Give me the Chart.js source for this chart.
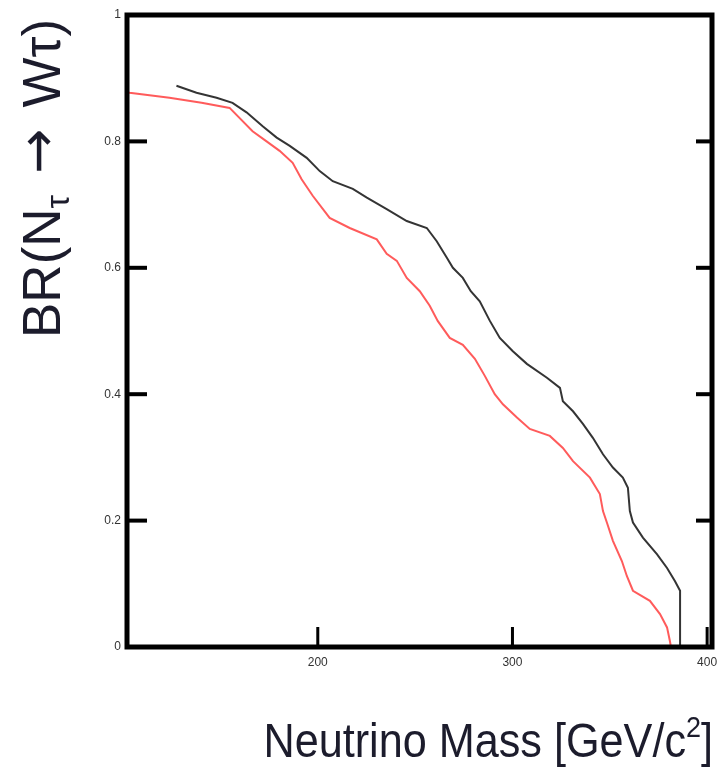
<!DOCTYPE html>
<html><head><meta charset="utf-8">
<script src="https://cdn.jsdelivr.net/npm/chart.js@4"></script>
<style>html,body{margin:0;padding:0;background:#fff}canvas{display:block}</style>
</head><body>
<canvas id="c" width="726" height="769"></canvas>
<script>
const massRed = [102, 103.3, 123.8, 140.3, 154.7, 166.5, 173.7, 180.4, 187.1, 191.7, 197.4, 206.1, 216.4, 230.3, 235.4, 240.6, 245.7, 252.4, 257.5, 261.6, 267.8, 274.5, 280.7, 285.8, 290.9, 295.1, 302.3, 308.9, 319.2, 325.9, 331.1, 339.8, 344.9, 346.5, 348.5, 351.6, 356.2, 358.8, 361.9, 370.6, 375.8, 379.4, 380.9, 381.4];
const brRed = [0.878, 0.877, 0.869, 0.861, 0.853, 0.816, 0.800, 0.785, 0.766, 0.740, 0.714, 0.679, 0.663, 0.645, 0.622, 0.611, 0.584, 0.563, 0.540, 0.516, 0.489, 0.478, 0.456, 0.429, 0.400, 0.384, 0.363, 0.345, 0.334, 0.315, 0.294, 0.268, 0.242, 0.215, 0.197, 0.168, 0.136, 0.112, 0.089, 0.073, 0.052, 0.031, 0.009, 0];
const massBlack = [127.4, 137.7, 148.0, 156.2, 163.4, 171.7, 178.9, 185.6, 194.3, 201.0, 207.7, 218.0, 225.2, 235.4, 245.7, 256.0, 261.1, 266.3, 269.4, 274.5, 278.6, 283.2, 288.4, 293.5, 300.2, 307.4, 317.7, 324.4, 325.9, 331.1, 336.2, 341.3, 346.5, 351.6, 356.7, 359.3, 360.3, 361.9, 367.0, 374.2, 379.4, 383.5, 386.1, 386.1];
const brBlack = [0.888, 0.877, 0.869, 0.861, 0.846, 0.824, 0.806, 0.793, 0.774, 0.753, 0.737, 0.725, 0.711, 0.693, 0.674, 0.663, 0.642, 0.616, 0.600, 0.584, 0.563, 0.547, 0.516, 0.489, 0.468, 0.448, 0.426, 0.410, 0.389, 0.373, 0.353, 0.331, 0.305, 0.284, 0.268, 0.252, 0.215, 0.197, 0.173, 0.147, 0.125, 0.104, 0.089, 0];
const xTickValues = [200, 300, 400];
const yTickValues = [0, 0.2, 0.4, 0.6, 0.8, 1];
const yTickLabels = ['0', '0.2', '0.4', '0.6', '0.8', '1'];
const xTitleMain = 'Neutrino Mass [GeV/c';
const xTitleSup = '2';
const xTitleEnd = ']';
const yTitleA = 'BR(N';
const yTitleSub = 'τ';
const yTitleArrow = ' → ';
const yTitleB = 'Wτ)';

const FONT = '"Liberation Sans", Arial, Helvetica, sans-serif';

const framePlugin = {
  id: 'frame',
  afterDatasetsDraw(chart) {
    const {ctx, chartArea: a, scales} = chart;
    ctx.save();
    ctx.strokeStyle = '#000';
    ctx.lineWidth = 5;
    ctx.strokeRect(a.left, a.top, a.right - a.left, a.bottom - a.top);
    ctx.fillStyle = '#000';
    scales.y.ticks.forEach(t => {
      if (t.value <= 0 || t.value >= 1) return;
      const py = scales.y.getPixelForValue(t.value);
      ctx.fillRect(a.left, py - 2, 20, 4);
      ctx.fillRect(a.right - 16, py - 2, 16, 4);
    });
    scales.x.ticks.forEach(t => {
      const px = scales.x.getPixelForValue(t.value);
      ctx.fillRect(px - 1.5, a.bottom - 20, 3, 20);
    });
    ctx.restore();
  }
};

const titlePlugin = {
  id: 'titles',
  afterDraw(chart) {
    const ctx = chart.ctx;
    ctx.save();
    ctx.fillStyle = '#1c1c2c';
    ctx.textAlign = 'left';
    ctx.textBaseline = 'alphabetic';
    // Y title (rotated)
    ctx.save();
    ctx.translate(60, 338);
    ctx.rotate(-Math.PI / 2);
    let x = 0;
    ctx.font = '53px ' + FONT;
    ctx.fillText(yTitleA, x, 0); x += ctx.measureText(yTitleA).width;
    ctx.font = '34px ' + FONT;
    ctx.fillText(yTitleSub, x, 9); x += ctx.measureText(yTitleSub).width + 4;
    ctx.font = '54px "DejaVu Sans", sans-serif';
    ctx.fillText(yTitleArrow, x, -4); x += ctx.measureText(yTitleArrow).width + 4;
    ctx.font = '53px ' + FONT;
    ctx.fillText(yTitleB, x, 0);
    ctx.restore();
    // X title
    ctx.save();
    const sx = 0.9;
    ctx.font = '48px ' + FONT;
    const w1 = ctx.measureText(xTitleMain).width;
    const w3 = ctx.measureText(xTitleEnd).width;
    ctx.font = '30px ' + FONT;
    const w2 = ctx.measureText(xTitleSup).width;
    const total = (w1 + w2 + w3) * sx;
    ctx.translate(713 - total, 757);
    ctx.scale(sx, 1);
    ctx.font = '48px ' + FONT;
    ctx.fillText(xTitleMain, 0, 0);
    ctx.font = '30px ' + FONT;
    ctx.fillText(xTitleSup, w1, -20);
    ctx.font = '48px ' + FONT;
    ctx.fillText(xTitleEnd, w1 + w2, 0);
    ctx.restore();
    ctx.restore();
  }
};

new Chart(document.getElementById('c'), {
  type: 'line',
  data: {
    datasets: [
      {
        data: massBlack.map((m, i) => ({x: m, y: brBlack[i]})),
        borderColor: 'rgba(30,30,30,0.9)',
        borderWidth: 2,
        pointRadius: 0,
        tension: 0,
        fill: false
      },
      {
        data: massRed.map((m, i) => ({x: m, y: brRed[i]})),
        borderColor: 'rgba(255,50,50,0.8)',
        borderWidth: 2,
        pointRadius: 0,
        tension: 0,
        fill: false
      }
    ]
  },
  options: {
    responsive: false,
    animation: false,
    devicePixelRatio: 1,
    layout: {padding: {top: 15, right: 14, left: 0, bottom: 0}},
    plugins: {legend: {display: false}, tooltip: {enabled: false}},
    scales: {
      x: {
        type: 'linear',
        min: 102,
        max: 402.5,
        afterBuildTicks: s => { s.ticks = xTickValues.map(v => ({value: v})); },
        afterFit: s => { s.height = 122; },
        grid: {display: false, drawTicks: false},
        border: {display: false},
        ticks: {
          font: {size: 12, family: FONT},
          color: '#333',
          padding: 8,
          maxRotation: 0,
          callback: v => String(v)
        }
      },
      y: {
        type: 'linear',
        min: 0,
        max: 1,
        afterBuildTicks: s => { s.ticks = yTickValues.map(v => ({value: v})); },
        afterFit: s => { s.width = 127; },
        grid: {display: false, drawTicks: false},
        border: {display: false},
        ticks: {
          font: {size: 12, family: FONT},
          color: '#333',
          padding: 6,
          callback: (v) => { const i = yTickValues.indexOf(v); return i >= 0 ? yTickLabels[i] : ''; }
        }
      }
    }
  },
  plugins: [framePlugin, titlePlugin]
});
</script>
</body></html>
